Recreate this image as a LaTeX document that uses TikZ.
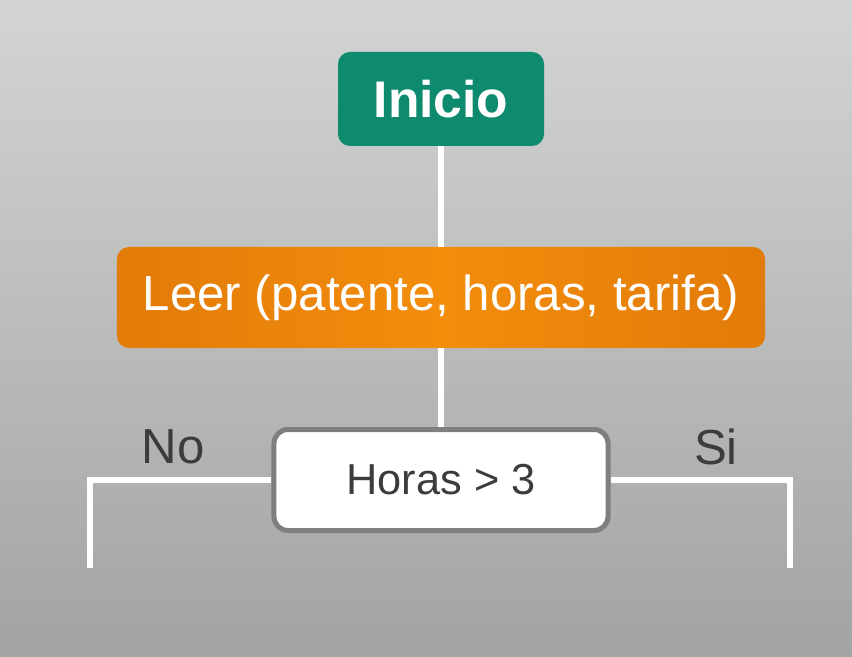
\documentclass[tikz,border=0pt]{standalone}
\usepackage{fontspec}
\setmainfont{Liberation Sans}
\usepackage{xcolor}
\usepackage{tikz}
\usetikzlibrary{positioning}

\definecolor{bgTop}{HTML}{D3D4D4}
\definecolor{bgBot}{HTML}{A2A4A4}
\definecolor{startGreen}{HTML}{0E8A6F}
\definecolor{readOrange}{HTML}{F38D0C}
\definecolor{readEdge}{HTML}{E27B08}
\definecolor{condGray}{HTML}{7E7F7F}
\definecolor{labelGray}{HTML}{3C3C3C}

\begin{document}
\begin{tikzpicture}[x=0.03cm, y=-0.03cm,
    startbox/.style={rectangle, rounded corners=0.36cm, fill=startGreen, text=white,
        minimum width=6.18cm, minimum height=2.82cm, inner sep=0pt,
        font=\fontsize{44}{50}\selectfont\bfseries},
    readbox/.style={rectangle, rounded corners=0.36cm, left color=readEdge, right color=readEdge,
        middle color=readOrange, text=white,
        minimum width=19.44cm, minimum height=3.03cm, inner sep=0pt,
        font=\fontsize{42}{48}\selectfont},
    condbox/.style={rectangle, rounded corners=0.42cm, fill=white, draw=condGray, line width=0.15cm,
        text=labelGray, minimum width=10.02cm, minimum height=3.03cm, inner sep=0pt,
        font=\fontsize{37}{44}\selectfont},
    branch/.style={text=labelGray, font=\fontsize{42}{48}\selectfont},
    flow/.style={draw=white, line width=0.18cm}]

    % background
    \shade[top color=bgTop, bottom color=bgBot] (0, 0) rectangle (852, 657);
    \useasboundingbox (0, 0) rectangle (852, 657);

    \node[startbox] (inicio) at (441, 99) {Inicio};
    \node[readbox] (leer) at (441, 297.5) {Leer (patente, horas, tarifa)};
    \node[condbox] (horas) at (441, 480) {Horas > 3};
    \node[branch] (no) at (173, 447) {No};
    \node[branch] (si) at (716, 447) {Si};
    \coordinate (noEnd) at (90, 568);
    \coordinate (siEnd) at (790, 568);

    \draw[flow] (inicio) -- (leer);
    \draw[flow] (leer) -- (horas);
    \draw[flow] (horas.west) -| (noEnd);
    \draw[flow] (horas.east) -| (siEnd);
\end{tikzpicture}
\end{document}
